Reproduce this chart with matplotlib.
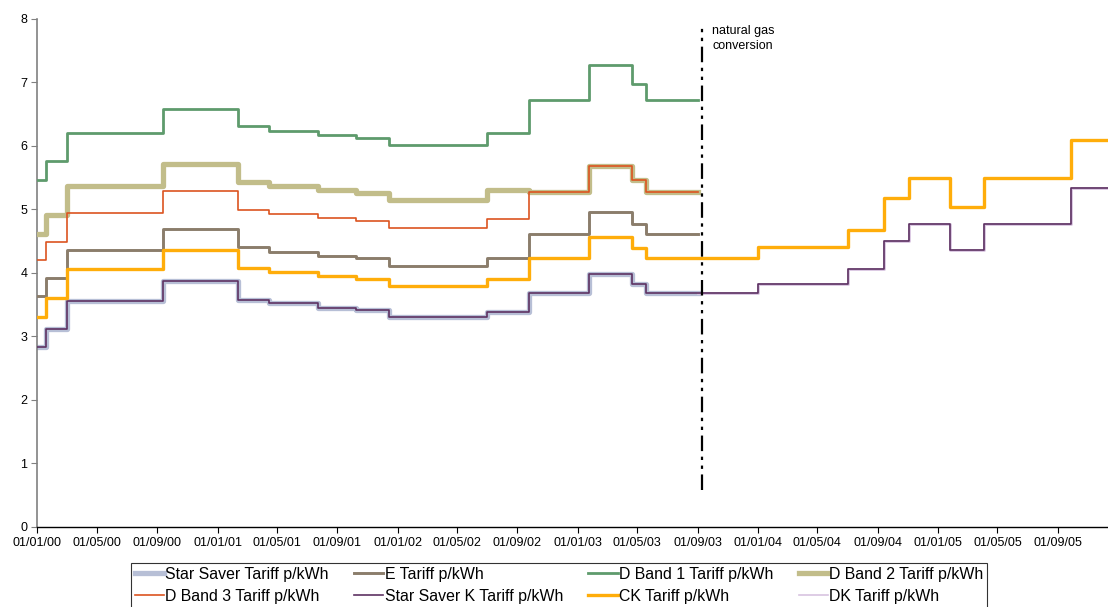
import matplotlib
matplotlib.use("Agg")
import matplotlib.pyplot as plt
import matplotlib.dates as mdates
import numpy as np

plt.rcParams['font.family'] = ['Liberation Sans', 'DejaVu Sans']

# tariff change dates up to the gas conversion
dates_pre = ["2000-01-01", "2000-01-19", "2000-03-01", "2000-09-12", "2001-02-11",
             "2001-04-15", "2001-07-24", "2001-10-09", "2001-12-15", "2002-07-01",
             "2002-09-24", "2003-01-23", "2003-04-21", "2003-05-19"]
end_pre = "2003-09-01"

# tariff changes after the conversion (CK and K only)
dates_post = ["2004-01-02", "2004-07-02", "2004-09-13", "2004-11-03",
              "2005-01-25", "2005-04-04", "2005-09-27"]
end_post = "2006-01-31"

d_band1 = [5.46, 5.77, 6.21, 6.59, 6.31, 6.24, 6.17, 6.12, 6.01, 6.20, 6.72, 7.27, 6.98, 6.72]
d_band2 = [4.61, 4.91, 5.37, 5.71, 5.43, 5.37, 5.31, 5.26, 5.15, 5.30, 5.27, 5.68, 5.46, 5.27]
d_band3 = [4.21, 4.49, 4.95, 5.29, 4.99, 4.93, 4.87, 4.82, 4.71, 4.85, 5.27, 5.68, 5.46, 5.27]
e_tariff = [3.63, 3.92, 4.36, 4.69, 4.41, 4.33, 4.27, 4.24, 4.11, 4.24, 4.61, 4.96, 4.77, 4.61]
star_saver = [2.83, 3.12, 3.56, 3.88, 3.58, 3.52, 3.45, 3.42, 3.30, 3.39, 3.69, 3.99, 3.83, 3.69]
ck_pre = [3.31, 3.61, 4.07, 4.37, 4.08, 4.02, 3.96, 3.91, 3.80, 3.91, 4.24, 4.57, 4.40, 4.24]
ck_post = [4.41, 4.68, 5.18, 5.50, 5.04, 5.50, 6.09]
k_pre = [2.83, 3.12, 3.56, 3.88, 3.58, 3.52, 3.45, 3.42, 3.30, 3.39, 3.69, 3.99, 3.83, 3.69]
k_post = [3.83, 4.06, 4.50, 4.77, 4.37, 4.77, 5.34]
dk_dates = ["2003-09-01"] + dates_post
dk = [3.69] + k_post

conversion_date = "2003-09-10"


def steps(ax, d, v, end, **kw):
    x = np.array(list(d) + [end], dtype="datetime64[D]")
    y = list(v) + [v[-1]]
    ax.step(x, y, where="post", **kw)


fig = plt.figure(figsize=(11.08, 6.07), dpi=100)
ax = fig.add_axes([0.0334, 0.1318, 0.9666, 0.8369])

steps(ax, dates_pre, star_saver, end_pre, color="#b7bfd6", lw=3.8, label="Star Saver Tariff p/kWh", zorder=2)
steps(ax, dates_pre, e_tariff, end_pre, color="#8b7d6b", lw=2.1, label="E Tariff p/kWh", zorder=3)
steps(ax, dates_pre, d_band1, end_pre, color="#5e9b6c", lw=2.0, label="D Band 1 Tariff p/kWh", zorder=3)
steps(ax, dates_pre, d_band2, end_pre, color="#c2bd8a", lw=3.8, label="D Band 2 Tariff p/kWh", zorder=3)
steps(ax, dates_pre, d_band3, end_pre, color="#dc5420", lw=1.2, label="D Band 3 Tariff p/kWh", zorder=4)
steps(ax, dk_dates, dk, end_post, color="#d8c4e0", lw=2.0, label="_dk", zorder=4)
steps(ax, dates_pre + dates_post, k_pre + k_post, end_post, color="#5d3262", lw=1.2,
      label="Star Saver K Tariff p/kWh", zorder=5)
steps(ax, dates_pre + dates_post, ck_pre + ck_post, end_post, color="#ffad0a", lw=2.4,
      label="CK Tariff p/kWh", zorder=5)
ax.plot([], [], color="#d8c4e0", lw=1.2, label="DK Tariff p/kWh")

# natural gas conversion marker
cx = np.datetime64(conversion_date)
ax.plot([cx, cx], [0.58, 7.87], color="black", lw=1.6, dashes=(7, 2.5, 1.5, 2.5, 1.5, 2.5), zorder=6)
ax.text(np.datetime64("2003-10-01"), 7.9, "natural gas\nconversion", fontsize=9,
        va="top", ha="left", multialignment="left", linespacing=1.3)

ax.set_xlim(np.datetime64("2000-01-01"), np.datetime64("2005-12-11"))
ax.set_ylim(0, 8)
ax.set_yticks(range(0, 9))
ax.xaxis.set_major_locator(mdates.MonthLocator(bymonth=[1, 5, 9]))
ax.xaxis.set_major_formatter(mdates.DateFormatter("%d/%m/%y"))
ax.tick_params(axis="both", labelsize=9, length=4, width=0.8, pad=3)
ax.tick_params(axis="y", colors="#808080", labelcolor="black")
ax.tick_params(axis="x", colors="black")
ax.spines["top"].set_visible(False)
ax.spines["right"].set_visible(False)
ax.spines["left"].set_color("#808080")
ax.spines["left"].set_linewidth(1.2)
ax.spines["bottom"].set_linewidth(1.0)

handles, labels = ax.get_legend_handles_labels()
order = ["Star Saver Tariff p/kWh", "E Tariff p/kWh", "D Band 1 Tariff p/kWh", "D Band 2 Tariff p/kWh",
         "D Band 3 Tariff p/kWh", "Star Saver K Tariff p/kWh", "CK Tariff p/kWh", "DK Tariff p/kWh"]
hmap = dict(zip(labels, handles))
# legend fills row by row like the source spreadsheet
hs = [hmap[l] for l in order]
rows = [hs[0:4], hs[4:8]]
col_major = [rows[r][c] for c in range(4) for r in range(2)]
lab_major = [order[r * 4 + c] for c in range(4) for r in range(2)]
leg = fig.legend(col_major, lab_major, loc="upper left", bbox_to_anchor=(0.118, 0.073), ncol=4,
                 fontsize=11.4, frameon=True, fancybox=False, edgecolor="black", handlelength=1.85,
                 handletextpad=0.08, columnspacing=1.6, borderaxespad=0, labelspacing=0.45,
                 borderpad=0.25)
leg.get_frame().set_linewidth(0.8)

fig.savefig("out.png", dpi=100)
